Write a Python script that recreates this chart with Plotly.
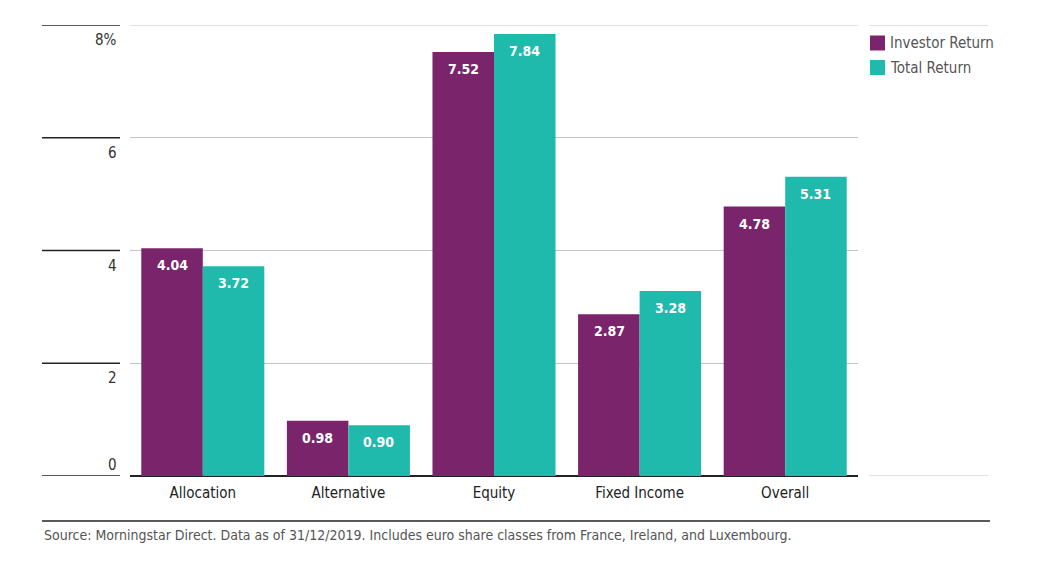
import plotly.graph_objects as go

categories = ["Allocation", "Alternative", "Equity", "Fixed Income", "Overall"]
investor_return = [4.04, 0.98, 7.52, 2.87, 4.78]
total_return = [3.72, 0.90, 7.84, 3.28, 5.31]
series_names = ["Investor Return", "Total Return"]
y_ticks = [0, 2, 4, 6, 8]
y_tick_labels = ["0", "2", "4", "6", "8%"]
source_text = "Source: Morningstar Direct. Data as of 31/12/2019. Includes euro share classes from France, Ireland, and Luxembourg."

PURPLE = "#7A246C"
TEAL = "#20BAAD"
COLORS = [PURPLE, TEAL]
FONT = "DejaVu Sans Condensed, Roboto Condensed, Liberation Sans Narrow, Roboto, sans-serif"

OFF = 8  # page body margin
W, H = 1055, 571
# target page-pixel geometry of plot area
PL, PR, PT, PB = 130, 858, 25, 476
L = PL - OFF
T = PT - OFF
R = W - (PR - OFF)
B = H - (PB - OFF)
pw = PR - PL
ph = PB - PT

def px_x(p):
    return (p - PL) / pw

def px_y(p):
    return (PB - p) / ph

fig = go.Figure()
for name, vals, col in zip(series_names, [investor_return, total_return], COLORS):
    fig.add_trace(go.Bar(name=name, x=categories, y=vals, showlegend=False,
                         marker=dict(color=col, line=dict(width=0))))

shapes = []
annotations = []
# left short black lines + tick labels
for t, lab in zip(y_ticks, y_tick_labels):
    shapes.append(dict(type="line", xref="paper", yref="y", x0=px_x(42), x1=px_x(120), y0=t, y1=t,
                       line=dict(color="#222", width=1.5)))
    is_zero = (t == y_ticks[0])
    annotations.append(dict(xref="paper", yref="y", x=px_x(119), y=t, text=lab, showarrow=False,
                            xanchor="right", yanchor="bottom" if is_zero else "top",
                            yshift=0 if is_zero else -4,
                            font=dict(family=FONT, size=15, color="#333")))
# top gridline inside plot area
shapes.append(dict(type="line", xref="paper", yref="y", x0=0, x1=1, y0=y_ticks[-1], y1=y_ticks[-1],
                   layer="below", line=dict(color="#c4c4c4", width=1.2)))
# right grey extensions
for t in [y_ticks[0], y_ticks[-1]]:
    shapes.append(dict(type="line", xref="paper", yref="y", x0=px_x(869), x1=px_x(988), y0=t, y1=t,
                       line=dict(color="#c4c4c4", width=1.2)))
# bottom rule
shapes.append(dict(type="line", xref="paper", yref="paper", x0=px_x(42), x1=px_x(990),
                   y0=px_y(521), y1=px_y(521), line=dict(color="#222", width=1.5)))
# source
annotations.append(dict(xref="paper", yref="paper", x=px_x(42), y=px_y(535), text=source_text,
                        showarrow=False, xanchor="left", yanchor="middle",
                        font=dict(family=FONT, size=14, color="#555")))
# manual legend
for i, (name, col) in enumerate(zip(series_names, COLORS)):
    cy = 43 + 24.5 * i
    shapes.append(dict(type="rect", xref="paper", yref="paper", x0=px_x(870), x1=px_x(885),
                       y0=px_y(cy - 7.5), y1=px_y(cy + 7.5), fillcolor=col, line=dict(width=0)))
    annotations.append(dict(xref="paper", yref="paper", x=px_x(888), y=px_y(cy), text=name,
                            showarrow=False, xanchor="left", yanchor="middle",
                            font=dict(family=FONT, size=15, color="#555")))
# value labels
half = 30.5
for vals, sh in [(investor_return, -half), (total_return, half)]:
    for c, v in zip(categories, vals):
        annotations.append(dict(xref="x", yref="y", x=c, y=v, text="<b>%.2f</b>" % v, showarrow=False,
                                xshift=sh, yshift=-17, xanchor="center", yanchor="middle",
                                font=dict(family=FONT, size=14, color="white")))

fig.update_layout(
    width=W, height=H, autosize=False,
    margin=dict(l=L, r=R, t=T, b=B, pad=0),
    paper_bgcolor="white", plot_bgcolor="white",
    barmode="group", bargap=0.155, bargroupgap=0,
    font=dict(family=FONT, size=14, color="#333"),
    xaxis=dict(showgrid=False, showline=False, ticks="", ticklabelstandoff=6,
               tickfont=dict(family=FONT, size=15, color="#222"), fixedrange=True),
    yaxis=dict(range=[0, 8], tickvals=y_ticks, showticklabels=False, showgrid=True,
               gridcolor="#c4c4c4", gridwidth=1.2, zeroline=True, zerolinecolor="#222", zerolinewidth=1.5,
               showline=False, fixedrange=True),
    shapes=shapes, annotations=annotations,
    showlegend=False,
)
fig.write_html("out.html", config={"displayModeBar": False})
